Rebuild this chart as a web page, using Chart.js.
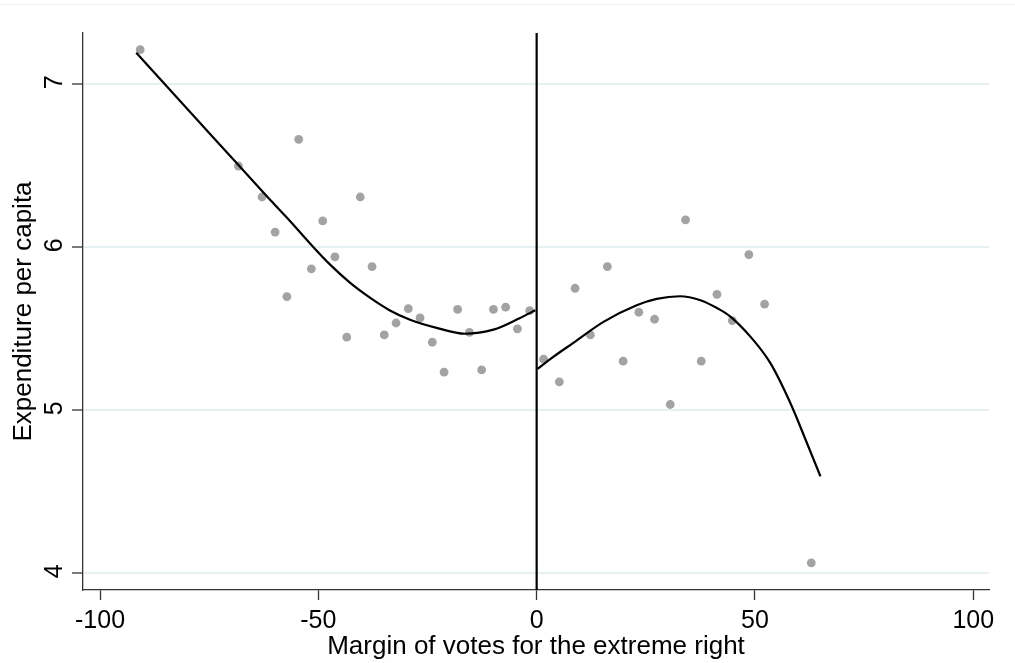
<!DOCTYPE html>
<html>
<head>
<meta charset="utf-8">
<script src="https://cdn.jsdelivr.net/npm/chart.js@4"></script>
<style>
  html, body { margin: 0; padding: 0; background: #fff; }
  #wrap { position: relative; width: 1015px; height: 663px; }
  #topline { position: absolute; left: 0; top: 4px; width: 1015px; height: 1px; background: #eef3f4; }
</style>
</head>
<body>
<div id="wrap">
  <div id="topline"></div>
  <canvas id="rddChart" width="1015" height="663"></canvas>
</div>
<script>
// binned means
const binX = [-90.8, -68.3, -62.9, -59.9, -57.2, -54.5, -51.6, -49.0, -46.2, -43.5, -40.4, -37.7, -34.9,
  -32.2, -29.4, -26.7, -23.9, -21.2, -18.1, -15.4, -12.6, -9.9, -7.1, -4.4, -1.6,
  1.6, 5.2, 8.8, 12.3, 16.2, 19.8, 23.4, 27.0, 30.6, 34.1, 37.7, 41.3, 44.8, 48.6, 52.2, 62.9];
const binY = [7.213, 6.499, 6.309, 6.094, 5.698, 6.663, 5.868, 6.162, 5.941, 5.449, 6.309, 5.882, 5.463,
  5.536, 5.624, 5.567, 5.418, 5.234, 5.619, 5.479, 5.248, 5.619, 5.633, 5.500, 5.612,
  5.314, 5.175, 5.749, 5.463, 5.882, 5.302, 5.602, 5.559, 5.036, 6.168, 5.302, 5.712, 5.551, 5.956, 5.652, 4.065];

// fitted curve, left of cutoff
const leftFitX = [-91.7, -80.0, -68.3, -61.0, -56.5, -51.9, -47.3, -42.7, -38.1, -33.6, -29.0, -22.9, -16.4, -9.9, -3.8, -0.3];
const leftFitY = [7.194, 6.849, 6.505, 6.290, 6.162, 6.024, 5.894, 5.782, 5.690, 5.613, 5.556, 5.506, 5.470, 5.495, 5.567, 5.614];

// fitted curve, right of cutoff
const rightFitX = [0.2, 3.8, 8.4, 15.3, 22.9, 27.5, 32.8, 37.5, 41.5, 44.3, 48.9, 53.5, 58.1, 61.9, 65.0];
const rightFitY = [5.254, 5.328, 5.414, 5.543, 5.645, 5.684, 5.700, 5.676, 5.625, 5.577, 5.454, 5.291, 5.045, 4.800, 4.595];

const cutoffX = [0, 0];
const yMin = 3.898;
const yMax = 7.315;
const xTicks = [-100, -50, 0, 50, 100];
const yTicks = [4, 5, 6, 7];

const FONT = "'Liberation Sans', Arial, sans-serif";

function toPoints(xs, ys) {
  return xs.map((x, i) => ({ x: x, y: ys[i] }));
}

// Stata-style vertical y tick labels
const yLabelsPlugin = {
  id: "yLabels",
  afterDraw(chart) {
    const ctx = chart.ctx;
    const y = chart.scales.y;
    ctx.save();
    ctx.fillStyle = "#000";
    ctx.font = "25px " + FONT;
    ctx.textAlign = "center";
    ctx.textBaseline = "alphabetic";
    yTicks.forEach((v) => {
      const py = y.getPixelForValue(v);
      ctx.save();
      ctx.translate(61.5, py - 2);
      ctx.rotate(-Math.PI / 2);
      ctx.fillText(String(v), 0, 0);
      ctx.restore();
    });
    ctx.restore();
  },
};

const config = {
  type: "scatter",
  data: {
    datasets: [
      {
        label: "bins",
        data: toPoints(binX, binY),
        backgroundColor: "#a3a3a3",
        borderWidth: 0,
        pointRadius: 4.4,
        order: 3,
      },
      {
        label: "left fit",
        type: "line",
        data: toPoints(leftFitX, leftFitY),
        borderColor: "#000",
        borderWidth: 2.2,
        pointRadius: 0,
        cubicInterpolationMode: "monotone",
        fill: false,
        order: 1,
      },
      {
        label: "right fit",
        type: "line",
        data: toPoints(rightFitX, rightFitY),
        borderColor: "#000",
        borderWidth: 2.2,
        pointRadius: 0,
        cubicInterpolationMode: "monotone",
        fill: false,
        order: 1,
      },
      {
        label: "cutoff",
        type: "line",
        data: toPoints(cutoffX, [yMin, yMax]),
        borderColor: "#000",
        borderWidth: 2.2,
        pointRadius: 0,
        fill: false,
        order: 0,
      },
    ],
  },
  options: {
    responsive: false,
    animation: false,
    layout: { padding: { top: 33, right: 26, left: 0, bottom: 0 } },
    plugins: {
      legend: { display: false },
      tooltip: { enabled: false },
    },
    scales: {
      x: {
        type: "linear",
        min: -103.9,
        max: 103.6,
        afterFit: (s) => { s.height = 73; },
        afterBuildTicks: (s) => { s.ticks = xTicks.map((v) => ({ value: v })); },
        border: { color: "#333", width: 1.3 },
        grid: { drawOnChartArea: false, tickLength: 10, tickColor: "#333", tickWidth: 1.3 },
        ticks: {
          padding: 6,
          color: "#000",
          font: { family: FONT, size: 25 },
          maxRotation: 0,
        },
        title: {
          display: true,
          text: "Margin of votes for the extreme right",
          color: "#000",
          font: { family: FONT, size: 26 },
          padding: { top: 0, bottom: 1 },
        },
      },
      y: {
        type: "linear",
        min: yMin,
        max: yMax,
        afterFit: (s) => { s.width = 83; },
        afterBuildTicks: (s) => { s.ticks = yTicks.map((v) => ({ value: v })); },
        border: { color: "#333", width: 1.3 },
        grid: { color: "#e6eff1", lineWidth: 2, tickLength: 11, tickColor: "#333", tickWidth: 1.3 },
        ticks: { display: false },
        title: {
          display: true,
          text: "Expenditure per capita",
          color: "#000",
          font: { family: FONT, size: 26 },
          padding: { top: 8, bottom: 0 },
        },
      },
    },
  },
  plugins: [yLabelsPlugin],
};

const canvas = document.getElementById("rddChart");
if (canvas) {
  new Chart(canvas, config);
} else {
  console.error("Canvas element not found");
}
</script>
</body>
</html>
